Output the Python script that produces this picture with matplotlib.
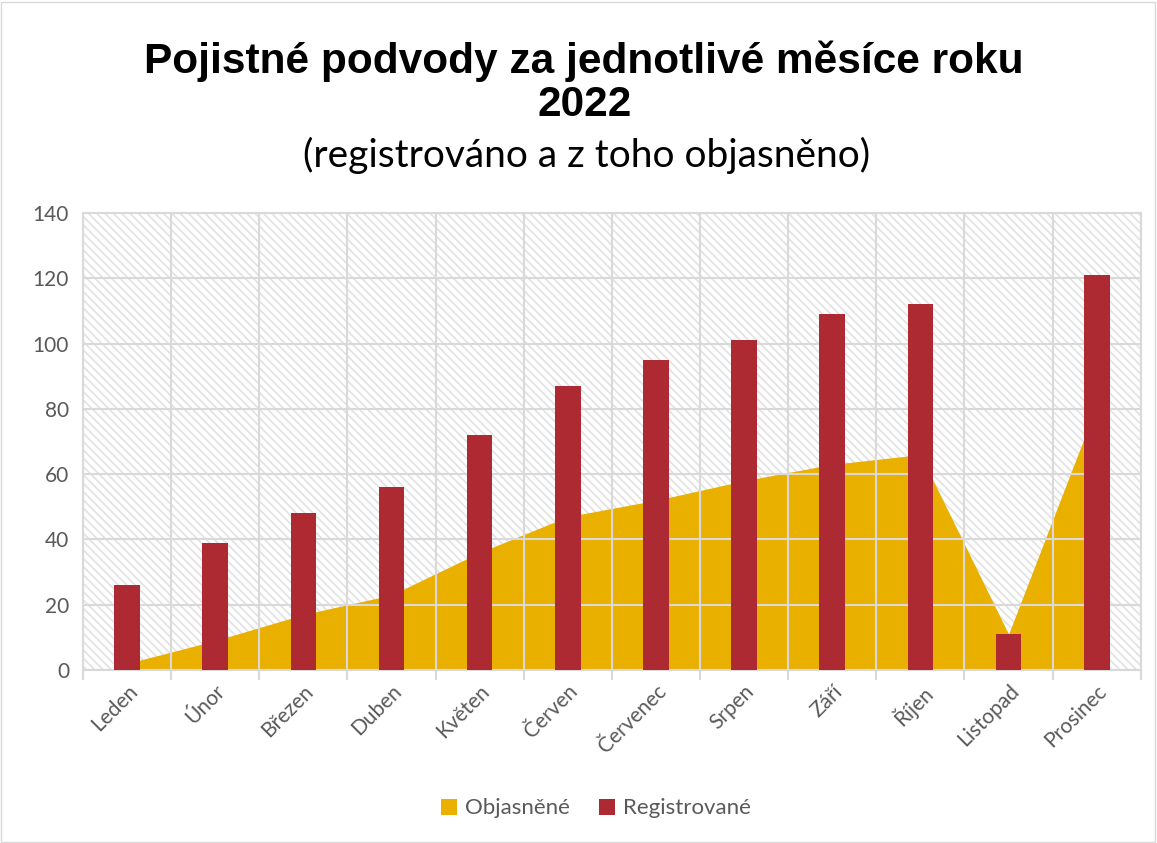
import matplotlib.pyplot as plt
from matplotlib.patches import Rectangle
import numpy as np

months = ["Leden", "Únor", "Březen", "Duben", "Květen", "Červen",
          "Červenec", "Srpen", "Září", "Říjen", "Listopad", "Prosinec"]
registered = [26, 39, 48, 56, 72, 87, 95, 101, 109, 112, 11, 121]
solved = [2, 9, 17, 23, 36, 47, 52, 58, 63, 66, 11, 81]

AREA_COLOR = "#EAB000"
BAR_COLOR = "#AD2A33"
GRID = "#D9D9D9"
TEXT = "#595959"

plt.rcParams['font.family'] = ['Lato', 'DejaVu Sans']
plt.rcParams['hatch.linewidth'] = 1.3
plt.rcParams['hatch.color'] = "#E3E3E3"

fig = plt.figure(figsize=(11.57, 8.43), dpi=100)
ax = fig.add_axes([0.0717, 0.2052, 0.9143, 0.5421])

x = np.arange(len(months))

# hatched background
ax.add_patch(Rectangle((0, 0), 1, 1, transform=ax.transAxes, facecolor="white",
                       edgecolor="#E3E3E3", hatch="\\\\\\\\", lw=0, zorder=0))

ax.fill_between(x, solved, 0, color=AREA_COLOR, lw=0, zorder=2, label="Objasněné")
ax.bar(x, registered, width=0.29, color=BAR_COLOR, zorder=3, label="Registrované")

ax.set_xlim(-0.5, 11.5)
ax.set_ylim(0, 140)
ax.set_yticks(range(0, 141, 20))
ax.set_xticks(np.arange(-0.5, 12, 1))
ax.set_xticklabels([])
ax.set_xticks(x, minor=True)
ax.set_xticklabels(months, minor=True, rotation=45, ha="right", rotation_mode="anchor",
                   fontsize=15, color=TEXT)
ax.tick_params(axis="x", which="minor", length=0, pad=8)
ax.tick_params(axis="x", which="major", length=7, color=GRID, width=1.5)
ax.tick_params(axis="y", length=0, labelsize=15, labelcolor=TEXT, pad=10)

ax.grid(True, which="major", color=GRID, lw=1.5, zorder=1)
ax.set_axisbelow(False)
for gl in ax.get_xgridlines() + ax.get_ygridlines():
    gl.set_zorder(1)
for s in ax.spines.values():
    s.set_color(GRID)
    s.set_linewidth(1.5)

fig.text(0.505, 0.927, "Pojistné podvody za jednotlivé měsíce roku", ha="center", va="center",
         fontsize=30.5, fontweight="bold", family="Liberation Sans")
fig.text(0.505, 0.876, "2022", ha="center", va="center",
         fontsize=30.5, fontweight="bold", family="Liberation Sans")
fig.text(0.507, 0.816, "(registrováno a z toho objasněno)", ha="center", va="center",
         fontsize=28, family=['Lato', 'DejaVu Sans'])

leg = fig.legend(loc="center", bbox_to_anchor=(0.515, 0.041), ncol=2, frameon=False,
                 fontsize=16, handlelength=0.75, handleheight=0.75, columnspacing=1.3,
                 handletextpad=0.35)
for t in leg.get_texts():
    t.set_color(TEXT)

fig.add_artist(Rectangle((0.001, 0.001), 0.997, 0.997, transform=fig.transFigure,
                         fill=False, edgecolor=GRID, lw=1))

fig.savefig("out.png", dpi=100)
